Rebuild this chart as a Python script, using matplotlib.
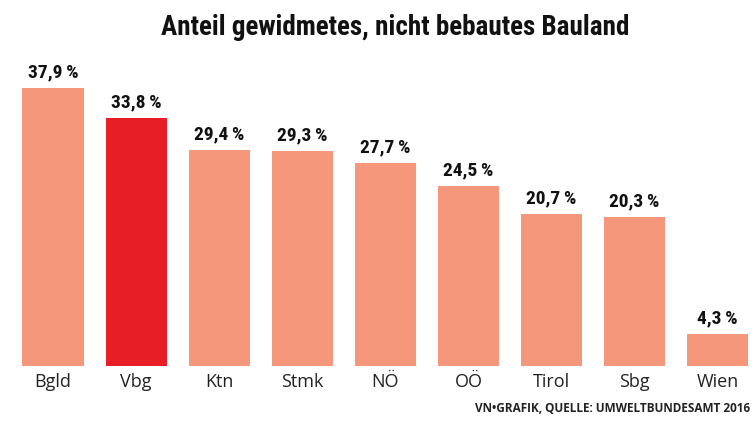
import numpy as np
import matplotlib.pyplot as plt

# Data
regions = ['Bgld', 'Vbg', 'Ktn', 'Stmk', 'NÖ', 'OÖ', 'Tirol', 'Sbg', 'Wien']
shares = [37.9, 33.8, 29.4, 29.3, 27.7, 24.5, 20.7, 20.3, 4.3]
highlight = 'Vbg'

salmon = '#F5977B'
red = '#E81E27'
colors = [red if r == highlight else salmon for r in regions]

narrow = ['Roboto Condensed', 'Roboto', 'DejaVu Sans']

fig = plt.figure(figsize=(7.55, 4.22), dpi=100)
ax = fig.add_axes([0, 56 / 422, 1, 366 / 422])

x = np.arange(len(regions))
bars = ax.bar(x, shares, width=0.735, color=colors)

for xi, v in zip(x, shares):
    ax.text(xi, v + 0.9, f'{v:.1f}\u2009%'.replace('.', ','), ha='center', va='bottom',
            fontsize=14, fontweight='bold', family=narrow, color='#111111')

ax.set_xlim(-0.638, 8.448)
ax.set_ylim(0, 49.86)
ax.set_xticks(x)
ax.set_xticklabels(regions, fontsize=13, family=['Open Sans', 'DejaVu Sans'], color='#222222')
ax.tick_params(axis='x', length=0, pad=5)
ax.set_yticks([])
for s in ax.spines.values():
    s.set_visible(False)

fig.text(0.523, 0.935, 'Anteil gewidmetes, nicht bebautes Bauland', ha='center', va='center',
         fontsize=19.5, fontweight='bold', family=narrow, color='#111111')
fig.text(0.993, 0.033, 'VN•GRAFIK, QUELLE: UMWELTBUNDESAMT 2016', ha='right', va='center',
         fontsize=8.5, fontweight='bold', family=['Open Sans', 'DejaVu Sans'], color='#222222')

fig.savefig('out.png', dpi=100)
